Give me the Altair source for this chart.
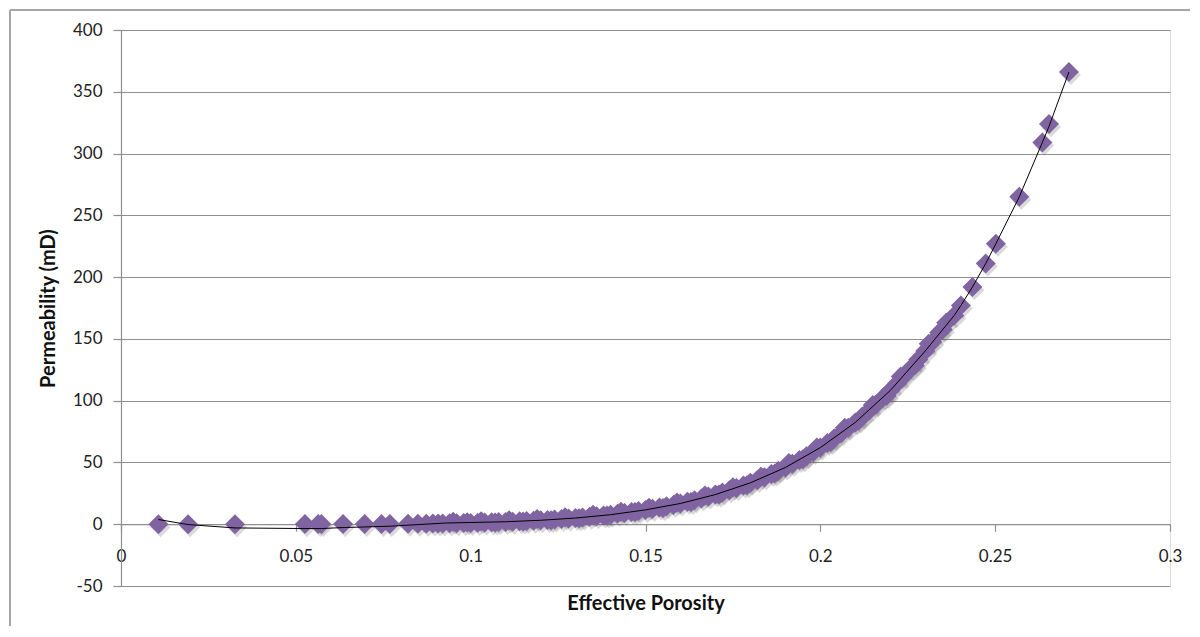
import altair as alt
import pandas as pd

# ---- data ----
porosity = [
    0.0107, 0.0192, 0.0326, 0.0526, 0.0564, 0.0573, 0.0635, 0.0697, 0.0745, 0.0769,
    0.0821, 0.0849, 0.0873, 0.0892, 0.0907,
    0.092, 0.094, 0.096, 0.098, 0.100, 0.102, 0.104, 0.106, 0.108, 0.110,
    0.112, 0.114, 0.116, 0.118, 0.120, 0.122, 0.124, 0.126, 0.128, 0.130,
    0.132, 0.134, 0.136, 0.138, 0.140, 0.142, 0.144, 0.146, 0.148, 0.150,
    0.152, 0.154, 0.156, 0.158, 0.160, 0.162, 0.164, 0.166, 0.168, 0.170,
    0.172, 0.174, 0.176, 0.178, 0.180, 0.182, 0.184, 0.186, 0.188, 0.190,
    0.192, 0.194, 0.196, 0.198, 0.200, 0.202, 0.204, 0.206, 0.208, 0.210,
    0.212, 0.214, 0.216, 0.218, 0.220, 0.222, 0.224, 0.226, 0.228, 0.230,
    0.232, 0.234, 0.236,
    0.095, 0.099, 0.103, 0.107, 0.111, 0.115, 0.119, 0.123, 0.127, 0.131,
    0.135, 0.139, 0.143, 0.147, 0.151, 0.155, 0.159, 0.163, 0.167, 0.171,
    0.175, 0.179, 0.183, 0.187, 0.191, 0.195, 0.199, 0.203, 0.207, 0.211,
    0.215, 0.219, 0.223, 0.227, 0.231, 0.235,
    0.2383, 0.2402, 0.2435, 0.2473, 0.2502, 0.2569, 0.2635, 0.2654, 0.2711,
]
permeability = [
    0.01, 0.02, 0.05, 0.10, 0.12, 0.13, 0.16, 0.20, 0.25, 0.28,
    0.35, 0.40, 0.45, 0.50, 0.55,
    0.67, 0.75, 0.85, 0.96, 1.08, 1.22, 1.36, 1.52, 1.70, 1.89,
    2.10, 2.33, 2.58, 2.85, 3.14, 3.46, 3.80, 4.18, 4.58, 5.01,
    5.48, 5.98, 6.52, 7.10, 7.72, 8.39, 9.11, 9.87, 10.7, 11.6,
    12.5, 13.5, 14.5, 15.6, 16.8, 18.1, 19.5, 20.9, 22.4, 24.0,
    25.7, 27.5, 29.4, 31.4, 33.5, 35.7, 38.1, 40.6, 43.2, 45.9,
    48.9, 51.9, 55.1, 58.5, 62.0, 65.7, 69.6, 73.7, 78.0, 82.4,
    87.1, 92.0, 97.2, 102.6, 108.2, 114.0, 120.2, 126.6, 133.3, 140.2,
    147.5, 155.1, 163.0,
    2.0, 1.6, 2.5, 1.4, 3.2, 2.2, 4.3, 3.3, 5.6, 4.9,
    7.6, 7.0, 10.1, 9.8, 13.4, 13.2, 17.5, 18.0, 23.2, 24.0,
    30.0, 31.5, 38.5, 41.0, 49.5, 52.5, 62.0, 66.5, 78.0, 84.0,
    96.5, 104.0, 119.5, 128.5, 146.0, 157.5,
    169, 177, 192, 211, 227, 265, 309, 324, 366,
]

trend_x = [0.0107, 0.0192, 0.0326, 0.0526, 0.0573, 0.0635, 0.0697, 0.0769, 0.085, 0.093,
           0.10, 0.11, 0.12, 0.13, 0.14, 0.15, 0.16, 0.17, 0.18, 0.19, 0.20,
           0.21, 0.22, 0.23, 0.2383, 0.2402, 0.2435, 0.2473, 0.2502, 0.2569,
           0.2635, 0.2654, 0.2711]
trend_y = [3.8, -0.3, -3.0, -3.5, -3.5, -2.7, -2.2, -1.6, -0.3, 1.0,
           1.4, 2.0, 3.2, 5.0, 7.7, 11.6, 16.8, 24.0, 33.5, 45.9, 62.0,
           82.4, 108.2, 140.2, 169, 177, 192, 211, 227, 265,
           309, 322, 366]

y_ticks = [-50, 0, 50, 100, 150, 200, 250, 300, 350, 400]
x_ticks = [0, 0.05, 0.1, 0.15, 0.2, 0.25, 0.3]

W, H = 1049, 556
FONT = "Lato"
GRID = "#8e8e8e"
PURPLE = "#8064A2"
LABEL_EXPR = "datum.value < 0 ? '-' + format(-datum.value, '~g') : format(datum.value, '~g')"

pts = pd.DataFrame({"phi": porosity, "k": permeability})
trend = pd.DataFrame({"phi": trend_x, "k": trend_y})

xscale = alt.Scale(domain=[0, 0.3], nice=False, zero=False)
yscale = alt.Scale(domain=[-50, 400], nice=False, zero=False)

x_axis = alt.Axis(
    values=x_ticks, title="Effective Porosity", grid=False,
    offset=-H * 50 / 450, tickSize=7, tickColor=GRID, domainColor=GRID,
    domainWidth=1.2, tickWidth=1.2,
    labelFont=FONT, labelFontSize=17, labelColor="#222", labelPadding=25,
    labelBaseline="middle", labelFlush=False, labelExpr=LABEL_EXPR,
    titleFont=FONT, titleFontSize=20, titleFontWeight="bold", titleColor="#111",
    titleBaseline="middle", titleY=79,
)
y_axis = alt.Axis(
    values=y_ticks, title="Permeability (mD)", grid=True, gridColor=GRID,
    gridWidth=1.2, tickSize=8, tickColor=GRID, domainColor=GRID, domainWidth=1.2,
    tickWidth=1.2, labelFont=FONT, labelFontSize=17, labelColor="#222",
    labelPadding=11, labelExpr=LABEL_EXPR,
    titleFont=FONT, titleFontSize=20, titleFontWeight="bold",
    titleColor="#111", titleX=-73, titleY=H / 2, titleBaseline="middle",
    titleAlign="center", titleAngle=270,
)

shadow = alt.Chart(pts).mark_point(
    shape="diamond", filled=True, size=400, color="#555", opacity=0.22,
    xOffset=2, yOffset=3,
).encode(
    x=alt.X("phi:Q", scale=xscale, axis=x_axis),
    y=alt.Y("k:Q", scale=yscale, axis=y_axis),
)

points = alt.Chart(pts).mark_point(
    shape="diamond", filled=True, size=400, color=PURPLE, opacity=1,
).encode(x=alt.X("phi:Q", scale=xscale), y=alt.Y("k:Q", scale=yscale))

line = alt.Chart(trend).mark_line(color="#000", strokeWidth=1).encode(
    x=alt.X("phi:Q", scale=xscale), y=alt.Y("k:Q", scale=yscale)
)

frame_left = alt.Chart(pts).mark_rule(color="#a6a6a6", strokeWidth=2, clip=False).encode(
    x=alt.value(-111), y=alt.value(-20), y2=alt.value(H + 60)
)
frame_top = alt.Chart(pts).mark_rule(color="#a6a6a6", strokeWidth=2, clip=False).encode(
    x=alt.value(-111), x2=alt.value(W + 40), y=alt.value(-20)
)

chart = alt.layer(frame_left, frame_top, shadow, points, line).properties(
    width=W, height=H,
    autosize=alt.AutoSizeParams(type="none"),
    padding={"left": 113, "top": 22, "right": 20, "bottom": 40},
).configure_view(stroke=None).configure(background="white")

chart.save("out.html", embed_options={"renderer": "svg", "actions": False})
